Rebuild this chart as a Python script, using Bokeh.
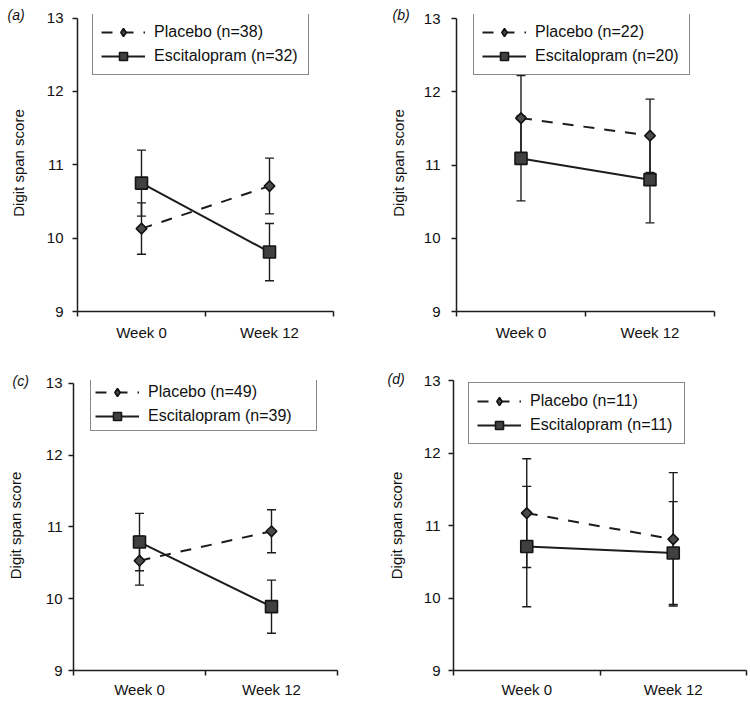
from bokeh.plotting import figure
from bokeh.models import (FixedTicker, Legend, LegendItem, Title, Whisker,
                          TeeHead, ColumnDataSource, Range1d)
from bokeh.layouts import column, row
from bokeh.embed import file_html
from bokeh.resources import INLINE

# ---------------- data ----------------
weeks = ["Week 0", "Week 12"]
panel_letters = ["a", "b", "c", "d"]
placebo_n = [38, 22, 49, 11]
escitalopram_n = [32, 20, 39, 11]

placebo_mean_a = [10.13, 10.71]
placebo_err_a = [0.35, 0.38]
escitalopram_mean_a = [10.75, 9.81]
escitalopram_err_a = [0.45, 0.39]

placebo_mean_b = [11.64, 11.40]
placebo_err_b = [0.58, 0.50]
escitalopram_mean_b = [11.09, 10.80]
escitalopram_err_b = [0.58, 0.59]

placebo_mean_c = [10.53, 10.94]
placebo_err_c = [0.34, 0.30]
escitalopram_mean_c = [10.79, 9.89]
escitalopram_err_c = [0.40, 0.37]

placebo_mean_d = [11.17, 10.81]
placebo_err_d = [0.75, 0.92]
escitalopram_mean_d = [10.71, 10.62]
escitalopram_err_d = [0.83, 0.71]

y_ticks = [9, 10, 11, 12, 13]
y_label = "Digit span score"

placebo_means = [placebo_mean_a, placebo_mean_b, placebo_mean_c, placebo_mean_d]
placebo_errs = [placebo_err_a, placebo_err_b, placebo_err_c, placebo_err_d]
escitalopram_means = [escitalopram_mean_a, escitalopram_mean_b, escitalopram_mean_c, escitalopram_mean_d]
escitalopram_errs = [escitalopram_err_a, escitalopram_err_b, escitalopram_err_c, escitalopram_err_d]

# ---------------- layout / style (pixel geometry) ----------------
FONT = "Liberation Sans"
INK = "#1c1c1c"

# frame_top: top of plotting frame; axis_top: pixel row of the 13 tick
styles = [
    dict(width=385, height=345, left=77, right=52, frame_top=14, axis_top=17.5, bottom=34,
         tick_standoff=9, label_standoff=17, x_standoff=7,
         legend_loc=(15, 236), legend_pad=8, label_width=146,
         letter_offset=-70, letter_standoff=-17),
    dict(width=365, height=345, left=71, right=36, frame_top=14, axis_top=18, bottom=34,
         tick_standoff=11, label_standoff=14, x_standoff=7,
         legend_loc=(17, 236), legend_pad=8, label_width=146,
         letter_offset=-64, letter_standoff=-17),
    dict(width=383, height=357, left=73, right=46, frame_top=377, axis_top=380, bottom=32,
         tick_standoff=6, label_standoff=19, x_standoff=5,
         legend_loc=(17, 239), legend_pad=4, label_width=164,
         letter_offset=-61, letter_standoff=-17),
    dict(width=367, height=357, left=70, right=4, frame_top=380, axis_top=380, bottom=32,
         tick_standoff=8, label_standoff=16, x_standoff=5,
         legend_loc=(15, 226), legend_pad=8, label_width=146,
         letter_offset=-66, letter_standoff=-12),
]
row_tops = [0, 0, 345, 345]


def make_panel(i):
    st = styles[i]
    xs = [k + 0.5 for k in range(len(weeks))]
    top_border = st["frame_top"] - row_tops[i]
    frame_bottom = row_tops[i] + st["height"] - st["bottom"]
    px_per_unit = (frame_bottom - st["axis_top"]) / (y_ticks[-1] - y_ticks[0])
    y_end = y_ticks[-1] + (st["axis_top"] - st["frame_top"]) / px_per_unit

    p = figure(width=st["width"], height=st["height"], output_backend="svg",
               toolbar_location=None, x_range=Range1d(0, 2),
               y_range=Range1d(y_ticks[0], y_end),
               min_border_left=st["left"], min_border_right=st["right"],
               min_border_top=int(round(top_border)), min_border_bottom=int(round(st["bottom"])))
    p.outline_line_color = None
    p.xgrid.visible = False
    p.ygrid.visible = False
    p.background_fill_color = "white"
    p.border_fill_color = "white"

    # x axis: labels at category centres, tick marks at category borders
    xa = p.xaxis[0]
    xa.ticker = FixedTicker(ticks=xs, minor_ticks=[0, 1, 2])
    xa.major_label_overrides = {x: w for x, w in zip(xs, weeks)}
    xa.major_tick_out = 0
    xa.major_tick_in = 0
    xa.minor_tick_out = 5
    xa.minor_tick_in = 0
    xa.minor_tick_line_color = INK
    xa.minor_tick_line_width = 1.5
    xa.axis_line_color = INK
    xa.axis_line_width = 1.5
    xa.major_label_text_font = FONT
    xa.major_label_text_font_size = "15px"
    xa.major_label_text_color = "#111111"
    xa.major_label_standoff = st["x_standoff"]

    ya = p.yaxis[0]
    ya.ticker = FixedTicker(ticks=y_ticks, minor_ticks=[])
    ya.bounds = (y_ticks[0], y_ticks[-1])
    ya.major_tick_out = 5
    ya.major_tick_in = 0
    ya.major_tick_line_color = INK
    ya.major_tick_line_width = 1.5
    ya.axis_line_color = INK
    ya.axis_line_width = 1.5
    ya.major_label_text_font = FONT
    ya.major_label_text_font_size = "15px"
    ya.major_label_text_color = "#111111"
    ya.major_label_standoff = st["tick_standoff"]
    ya.axis_label = y_label
    ya.axis_label_text_font = FONT
    ya.axis_label_text_font_size = "15px"
    ya.axis_label_text_font_style = "normal"
    ya.axis_label_text_color = "#111111"
    ya.axis_label_standoff = st["label_standoff"]

    pm, pe = placebo_means[i], placebo_errs[i]
    em, ee = escitalopram_means[i], escitalopram_errs[i]

    for m, e in ((pm, pe), (em, ee)):
        src = ColumnDataSource(dict(x=xs, upper=[a + b for a, b in zip(m, e)],
                                    lower=[a - b for a, b in zip(m, e)]))
        w = Whisker(source=src, base="x", upper="upper", lower="lower",
                    line_color=INK, line_width=1.4,
                    upper_head=TeeHead(size=9, line_color=INK, line_width=1.4),
                    lower_head=TeeHead(size=9, line_color=INK, line_width=1.4))
        p.add_layout(w)

    pl = p.line(xs, pm, line_color=INK, line_width=2, line_dash="11 10")
    el = p.line(xs, em, line_color=INK, line_width=2)
    p.scatter(xs, pm, marker="square", angle=0.785398, size=7.5,
              fill_color="#4a4a4a", line_color="#111111", line_width=1.6)
    es = p.scatter(xs, em, marker="square", size=12,
                   fill_color="#404040", line_color="#151515", line_width=1.6)
    # legend swatch for the placebo diamond (hidden in the plot itself)
    pdia = p.scatter(xs, pm, marker="diamond", size=12, visible=False,
                     fill_color="#4a4a4a", line_color="#111111", line_width=1.6)

    legend = Legend(items=[
        LegendItem(label=f"Placebo (n={placebo_n[i]})", renderers=[pl, pdia]),
        LegendItem(label=f"Escitalopram (n={escitalopram_n[i]})", renderers=[el, es]),
    ], location=st["legend_loc"])
    legend.label_text_font = FONT
    legend.label_text_font_size = "16px"
    legend.label_text_color = "#111111"
    legend.glyph_width = 44
    legend.glyph_height = 20
    legend.label_height = 20
    legend.label_width = st["label_width"]
    legend.label_standoff = 9
    legend.spacing = 4
    legend.padding = st["legend_pad"]
    legend.margin = 0
    legend.border_line_color = "#111111"
    legend.border_line_width = 1.2
    legend.background_fill_color = "white"
    legend.background_fill_alpha = 1
    legend.inactive_fill_alpha = 0
    p.add_layout(legend)

    t = Title(text=f"({panel_letters[i]})", align="left", vertical_align="bottom",
              offset=st["letter_offset"], standoff=st["letter_standoff"],
              text_font=FONT, text_font_size="14px", text_font_style="italic",
              text_color="#111111")
    p.add_layout(t, "above")
    return p


panels = [make_panel(i) for i in range(4)]
layout = column(row(panels[0], panels[1]), row(panels[2], panels[3]))

with open("out.html", "w") as f:
    f.write(file_html(layout, INLINE))
